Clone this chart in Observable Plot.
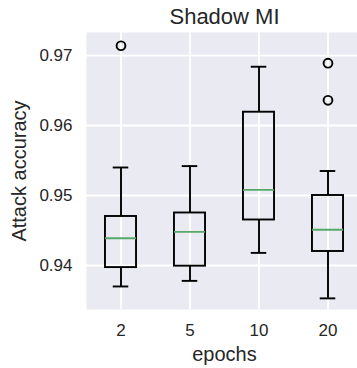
<!DOCTYPE html>
<html>
<head>
<meta charset="utf-8">
<script src="https://cdn.jsdelivr.net/npm/d3@7"></script>
<script src="https://cdn.jsdelivr.net/npm/@observablehq/plot@0.6"></script>
<style>
  html, body { margin: 0; padding: 0; background: white; }
  #chart svg { display: block; overflow: hidden; }
</style>
</head>
<body>
<div id="chart"></div>
<script>
// ---- data ----
const categories = ["2", "5", "10", "20"];
const whiskerLow  = [0.9370, 0.9378, 0.9418, 0.9353];
const q1          = [0.9397, 0.9399, 0.9465, 0.9420];
const median      = [0.9439, 0.9448, 0.9508, 0.9451];
const q3          = [0.9470, 0.9475, 0.9619, 0.9500];
const whiskerHigh = [0.9540, 0.9542, 0.9684, 0.9535];
const outlierCategory = ["2", "20", "20"];
const outlierValue    = [0.9714, 0.9689, 0.9636];
const yTicks = [0.94, 0.95, 0.96, 0.97];

const title = "Shadow MI";
const xLabel = "epochs";
const yLabel = "Attack accuracy";

// ---- tables ----
const boxes = categories.map((c, i) => ({
  cat: c, pos: i + 1,
  lo: whiskerLow[i], q1: q1[i], med: median[i], q3: q3[i], hi: whiskerHigh[i]
}));
const outliers = outlierCategory.map((c, i) => ({
  pos: categories.indexOf(c) + 1, value: outlierValue[i]
}));
const positions = categories.map((c, i) => i + 1);

const boxHalf = 0.225;   // box width 0.45
const capHalf = 0.1125;  // cap width half of box
const ink = "#000000";
const textColor = "#262626";
const font = "Liberation Sans, Arial, sans-serif";
const lw = 1.9;

const chart = Plot.plot({
  width: 357,
  height: 368,
  marginLeft: 86,
  marginRight: -5,
  marginTop: 32,
  marginBottom: 59,
  style: { fontFamily: font, background: "white", color: textColor },
  x: { type: "linear", domain: [0.5, 4.5] },
  y: { domain: [0.93371, 0.97329] },
  marks: [
    Plot.frame({ fill: "#EAEAF2", stroke: null }),
    Plot.gridY(yTicks, { stroke: "white", strokeOpacity: 1, strokeWidth: 1.8 }),
    Plot.gridX(positions, { stroke: "white", strokeOpacity: 1, strokeWidth: 1.8 }),
    Plot.axisY(yTicks, {
      tickSize: 0, tickPadding: 14, fontSize: 17, fill: textColor,
      tickFormat: d => d.toFixed(2), label: null
    }),
    Plot.axisX(positions, {
      tickSize: 0, tickPadding: 14, fontSize: 17, fill: textColor,
      tickFormat: d => categories[d - 1], label: null
    }),
    // whiskers
    Plot.ruleX(boxes, { x: "pos", y1: "q3", y2: "hi", stroke: ink, strokeWidth: lw }),
    Plot.ruleX(boxes, { x: "pos", y1: "lo", y2: "q1", stroke: ink, strokeWidth: lw }),
    // caps
    Plot.ruleY(boxes, { y: "hi", x1: d => d.pos - capHalf, x2: d => d.pos + capHalf, stroke: ink, strokeWidth: lw }),
    Plot.ruleY(boxes, { y: "lo", x1: d => d.pos - capHalf, x2: d => d.pos + capHalf, stroke: ink, strokeWidth: lw }),
    // boxes
    Plot.rect(boxes, {
      x1: d => d.pos - boxHalf, x2: d => d.pos + boxHalf, y1: "q1", y2: "q3",
      fill: "none", stroke: ink, strokeWidth: lw
    }),
    // medians
    Plot.ruleY(boxes, { y: "med", x1: d => d.pos - boxHalf, x2: d => d.pos + boxHalf, stroke: "#55A868", strokeWidth: lw }),
    // outliers
    Plot.dot(outliers, { x: "pos", y: "value", r: 4.4, stroke: ink, fill: "none", strokeWidth: lw }),
    // title & labels
    Plot.text([title], { frameAnchor: "top", dy: -24, fontSize: 22, fill: textColor }),
    Plot.text([xLabel], { frameAnchor: "bottom", dy: 51, fontSize: 20, fill: textColor }),
    Plot.text([yLabel], { frameAnchor: "left", textAnchor: "middle", dx: -67, rotate: -90, fontSize: 20, fill: textColor })
  ]
});
document.getElementById("chart").appendChild(chart);
</script>
</body>
</html>
